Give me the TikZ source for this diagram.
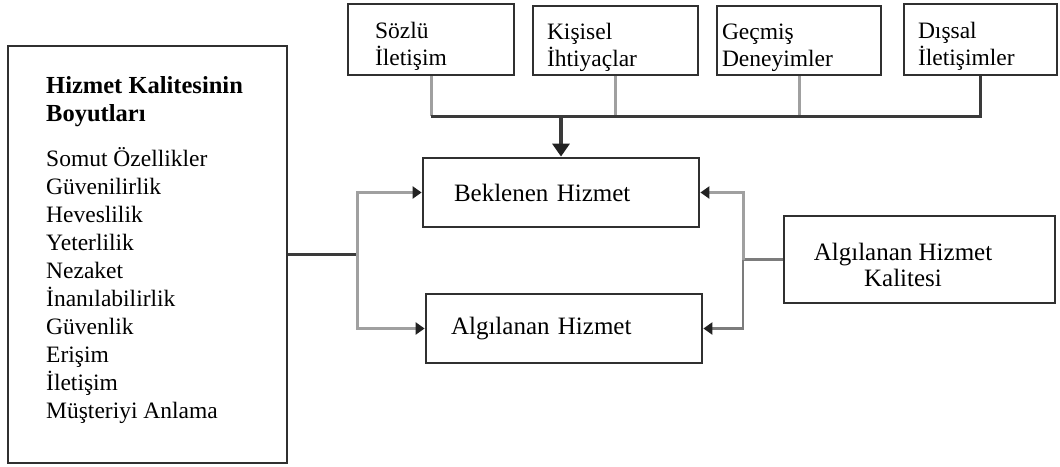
\documentclass[tikz,border=0pt]{standalone}
\usepackage{fontspec}
\setmainfont{Liberation Serif}
\usetikzlibrary{arrows.meta}
\definecolor{boxc}{HTML}{303030}
\definecolor{darkl}{HTML}{3A3A3A}
\definecolor{grayl}{HTML}{A0A0A0}
\definecolor{midl}{HTML}{7C7C7C}
\definecolor{tipc}{HTML}{222222}
\tikzset{
  box/.style={draw=boxc, line width=2.8pt, fill=white, inner sep=0pt, align=left,
    font=\fontsize{23.5}{27}\selectfont},
  topbox/.style={box, execute at begin node={\rule{0pt}{31pt}}},
  midbox/.style={box, font=\fontsize{25}{28}\selectfont},
  txt/.style={inner sep=0pt},
  darkline/.style={draw=darkl, line width=3pt},
  grayline/.style={draw=grayl, line width=3pt},
  midline/.style={draw=midl, line width=2.6pt},
  tip/.style={-{Triangle[length=9pt,width=12pt,color=tipc]}},
  bigtip/.style={-{Triangle[length=13pt,width=17pt,color=tipc]}},
}
\begin{document}
\begin{tikzpicture}[x=1pt,y=-1pt]
\useasboundingbox[fill=white] (0,0) rectangle (1060,466);

% top boxes
\node[topbox, minimum width=166pt, minimum height=71pt, text width=112pt] (s1) at (431,39.5) {Sözlü\\İletişim};
\node[topbox, minimum width=165pt, minimum height=69pt, text width=137pt] (s2) at (615.5,40.5) {Kişisel\\İhtiyaçlar};
\node[topbox, minimum width=164pt, minimum height=69pt, text width=154pt] (s3) at (799,40.5) {Geçmiş\\Deneyimler};
\node[topbox, minimum width=153pt, minimum height=71pt, text width=125pt] (s4) at (980.5,39.5) {Dışsal\\İletişimler};

% middle boxes
\node[midbox, minimum width=276pt, minimum height=69pt, text width=214pt] (bek) at (561,192.5) {Beklenen Hizmet};
\node[midbox, minimum width=276pt, minimum height=69pt, text width=226pt] (alg) at (564,328.5) {Algılanan Hizmet};

% right box
\node[box, minimum width=271pt, minimum height=87pt] (ahk) at (919.5,259.5) {};
\node[txt, align=center, font=\fontsize{25}{26}\selectfont] (ahktxt) at (903,265) {Algılanan Hizmet\\Kalitesi};

% left box
\node[box, minimum width=279pt, minimum height=417pt] (dim) at (147.5,254.5) {};
\node[txt, anchor=north west, align=left, font=\fontsize{23.5}{28}\selectfont] (dimtxt) at (46,76)
 {{\fontsize{24.5}{28}\selectfont\bfseries Hizmet Kalitesinin}\\
  {\fontsize{24.5}{28}\selectfont\bfseries Boyutları}\\[17pt]
  Somut Özellikler\\
  Güvenilirlik\\
  Heveslilik\\
  Yeterlilik\\
  Nezaket\\
  İnanılabilirlik\\
  Güvenlik\\
  Erişim\\
  İletişim\\
  Müşteriyi Anlama};

% junction coordinates
\coordinate (bus) at (bek.north |- 0,116);
\coordinate (lj) at (357,0 |- dim.east);
\coordinate (rj) at (743,0 |- ahk.west);

% top connectors
\draw[grayline] (s1.south) -- (s1.south |- bus);
\draw[grayline] (s2.south) -- (s2.south |- bus);
\draw[grayline] (s3.south) -- (s3.south |- bus);
\draw[darkline] (s4.south) -- (s4.south |- bus) -- (s1.south |- bus);
\draw[darkline, line width=4pt, bigtip] (bus) -- (bek.north);

% left connectors
\draw[darkline, line width=2.4pt] (dim.east) -- (lj);
\draw[grayline, tip] (lj) |- (bek.west);
\draw[grayline, tip] (lj) |- (alg.west);

% right connectors
\draw[midline] (ahk.west) -- (rj);
\draw[grayline, tip] (rj) |- (bek.east);
\draw[midline, tip] (rj) |- (alg.east);
\end{tikzpicture}
\end{document}
